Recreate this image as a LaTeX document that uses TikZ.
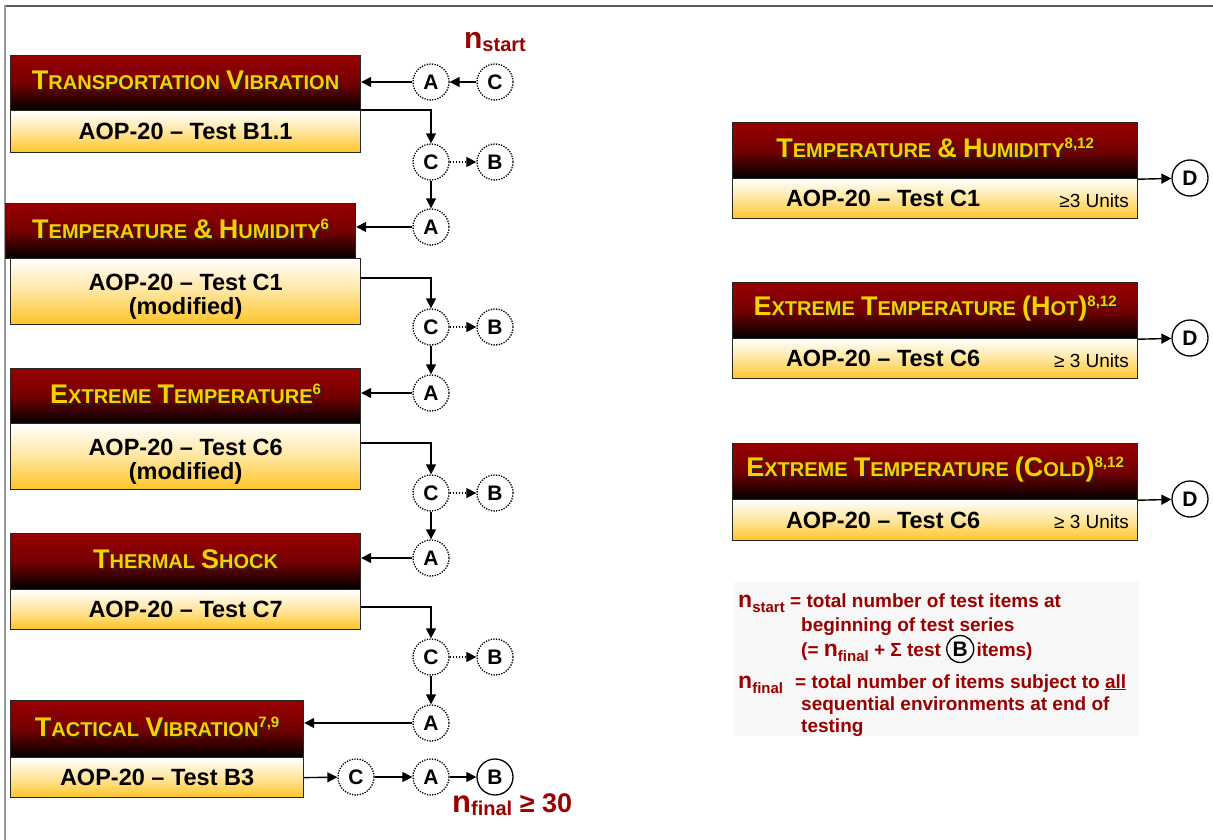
\documentclass[tikz,border=0pt]{standalone}
\usepackage{fontspec}
\setmainfont{Liberation Sans}
\usetikzlibrary{arrows.meta,calc}
\definecolor{hdrred}{HTML}{9A0000}
\definecolor{hdrgold}{HTML}{FFCC00}
\definecolor{bodygold}{HTML}{FFC526}
\definecolor{nred}{HTML}{990000}
\newcommand\SCx[2]{{\fontsize{27}{27}\selectfont #1}{\fontsize{20}{20}\selectfont #2}}
\newcommand\SPx[1]{\raisebox{9pt}{\fontsize{15}{15}\selectfont #1}}
\newcommand\nlab[4]{{\fontsize{#1}{#1}\selectfont n}\raisebox{-0.3em}{\fontsize{#2}{#2}\selectfont #3}#4}
\newcommand\hdrtxt[2]{%
  \node[hdrshadow] at ($(#1.center)+(1.8,-0.7)$) {#2};
  \node[hdrlabel] at ($(#1.center)+(0,-2.5)$) {#2};}
\tikzset{
  hdrbox/.style={draw=black!85, line width=1.2pt, top color=hdrred, bottom color=black, middle color=hdrred!75!black, anchor=north west, inner sep=0pt},
  bodybox/.style={draw=black!85, line width=1.2pt, top color=white, bottom color=bodygold, middle color=bodygold!45!white, anchor=north west, inner sep=0pt},
  bodytxt/.style={font=\bfseries\fontsize{23.5}{24}\selectfont, align=center, inner sep=0pt},
  unitstxt/.style={font=\fontsize{19}{19}\selectfont, anchor=east, inner sep=0pt},
  hdrlabel/.style={text=hdrgold, font=\bfseries\fontsize{22}{22}\selectfont, inner sep=0pt},
  hdrshadow/.style={text=black!85, font=\bfseries\fontsize{22}{22}\selectfont, inner sep=0pt},
  circ/.style={circle, draw=black, line width=1.3pt, dash pattern=on 1.3pt off 1.3pt, fill=white, minimum size=36pt, inner sep=0pt, font=\bfseries\fontsize{21}{21}\selectfont},
  circs/.style={circ, solid},
  arr/.style={draw=black, line width=1.4pt, -{Triangle[length=10pt,width=10pt]}},
  darr/.style={arr, dash pattern=on 1.4pt off 1.6pt},
  legtxt/.style={text=nred, font=\bfseries\fontsize{19}{19}\selectfont, anchor=base west, inner sep=0pt},
}
\begin{document}
\begin{tikzpicture}[x=1pt,y=-1pt]
\useasboundingbox (0,0) rectangle (1213,840);
\fill[white] (0,0) rectangle (1213,840);
% frame
\draw[line width=2.4pt, black!65] (4,6) -- (1213,6);
\draw[line width=1.2pt, black!40] (5,5) -- (5,840);

% left column boxes
\node[hdrbox, minimum width=350pt, minimum height=55pt] (h1) at (10,55) {};
\node[bodybox, minimum width=350pt, minimum height=42pt] (b1) at (10,110) {};
\node[hdrbox, minimum width=350pt, minimum height=55pt] (h2) at (5,203) {};
\node[bodybox, minimum width=350pt, minimum height=66pt] (b2) at (10,258) {};
\node[hdrbox, minimum width=350pt, minimum height=55pt] (h3) at (10,368) {};
\node[bodybox, minimum width=350pt, minimum height=66pt] (b3) at (10,423) {};
\node[hdrbox, minimum width=350pt, minimum height=56pt] (h4) at (10,533) {};
\node[bodybox, minimum width=350pt, minimum height=40pt] (b4) at (10,589) {};
\node[hdrbox, minimum width=293pt, minimum height=57pt] (h5) at (10,700) {};
\node[bodybox, minimum width=293pt, minimum height=40pt] (b5) at (10,757) {};

\hdrtxt{h1}{\SCx{T}{RANSPORTATION} \SCx{V}{IBRATION}}
\hdrtxt{h2}{\SCx{T}{EMPERATURE} \SCx{\&}{} \SCx{H}{UMIDITY}\SPx{6}}
\hdrtxt{h3}{\SCx{E}{XTREME} \SCx{T}{EMPERATURE}\SPx{6}}
\hdrtxt{h4}{\SCx{T}{HERMAL} \SCx{S}{HOCK}}
\hdrtxt{h5}{\SCx{T}{ACTICAL} \SCx{V}{IBRATION}\SPx{7,9}}

\node[bodytxt] (t1) at (b1.center) {AOP-20 – Test B1.1};
\node[bodytxt] (t2) at ($(b2.center)+(0,5)$) {AOP-20 – Test C1\\(modified)};
\node[bodytxt] (t3) at ($(b3.center)+(0,5)$) {AOP-20 – Test C6\\(modified)};
\node[bodytxt] (t4) at (b4.center) {AOP-20 – Test C7};
\node[bodytxt] (t5) at (b5.center) {AOP-20 – Test B3};

% right column boxes
\node[hdrbox, minimum width=405pt, minimum height=56pt] (rh1) at (732,122) {};
\node[bodybox, minimum width=405pt, minimum height=40pt] (rb1) at (732,178) {};
\node[hdrbox, minimum width=405pt, minimum height=56pt] (rh2) at (732,282) {};
\node[bodybox, minimum width=405pt, minimum height=40pt] (rb2) at (732,338) {};
\node[hdrbox, minimum width=405pt, minimum height=56pt] (rh3) at (732,443) {};
\node[bodybox, minimum width=405pt, minimum height=41pt] (rb3) at (732,499) {};

\hdrtxt{rh1}{\SCx{T}{EMPERATURE} \SCx{\&}{} \SCx{H}{UMIDITY}\SPx{8,12}}
\hdrtxt{rh2}{\SCx{E}{XTREME} \SCx{T}{EMPERATURE} \SCx{(H}{OT}\SCx{)}{}\SPx{8,12}}
\hdrtxt{rh3}{\SCx{E}{XTREME} \SCx{T}{EMPERATURE} \SCx{(C}{OLD}\SCx{)}{}\SPx{8,12}}

\node[bodytxt] (rt1) at ($(rb1.center)+(-52,0)$) {AOP-20 – Test C1};
\node[bodytxt] (rt2) at ($(rb2.center)+(-52,0)$) {AOP-20 – Test C6};
\node[bodytxt] (rt3) at ($(rb3.center)+(-52,0)$) {AOP-20 – Test C6};
\node[unitstxt] (u1) at ($(rb1.east)+(-9,2)$) {≥3 Units};
\node[unitstxt] (u2) at ($(rb2.east)+(-9,2)$) {≥ 3 Units};
\node[unitstxt] (u3) at ($(rb3.east)+(-9,2)$) {≥ 3 Units};

% circles
\node[circ] (C0) at (495,82) {C};
\node[circ] (A1) at (431,82) {A};
\node[circ] (C1) at (431,162) {C};
\node[circ] (B1) at (495,162) {B};
\node[circ] (A2) at (431,227) {A};
\node[circ] (C2) at (431,327) {C};
\node[circ] (B2) at (495,327) {B};
\node[circ] (A3) at (431,393) {A};
\node[circ] (C3) at (431,493) {C};
\node[circ] (B3) at (495,493) {B};
\node[circ] (A4) at (431,558) {A};
\node[circ] (C4) at (431,657) {C};
\node[circ] (B4) at (495,657) {B};
\node[circ] (A5) at (431,723) {A};
\node[circ] (C5) at (356,777) {C};
\node[circ] (A6) at (431,777) {A};
\node[circs] (B5) at (495,777) {B};
\node[circs] (D1) at (1190,178) {D};
\node[circs] (D2) at (1190,338) {D};
\node[circs] (D3) at (1190,499) {D};

% labels
\node[text=nred, font=\bfseries, inner sep=0pt] (nstart) at (495,42) {\nlab{30}{20}{start}{}};
\node[text=nred, font=\bfseries, inner sep=0pt, anchor=west] (nfinal) at (452,805) {\nlab{31}{20}{final}{\fontsize{27}{27}\selectfont\ ≥ 30}};

% connectors
\draw[arr] (C0) -- (A1);
\draw[arr] (A1) -- (A1 -| h1.east);
\draw[arr] (b1.north east) -| (C1);
\draw[darr] (C1) -- (B1);
\draw[arr] (C1) -- (A2);
\draw[arr] (A2) -- (A2 -| h2.east);
\draw[arr] ($(b2.north east)+(0,20)$) -| (C2);
\draw[darr] (C2) -- (B2);
\draw[arr] (C2) -- (A3);
\draw[arr] (A3) -- (A3 -| h3.east);
\draw[arr] ($(b3.north east)+(0,20)$) -| (C3);
\draw[darr] (C3) -- (B3);
\draw[arr] (C3) -- (A4);
\draw[arr] (A4) -- (A4 -| h4.east);
\draw[arr] ($(b4.north east)+(0,18)$) -| (C4);
\draw[darr] (C4) -- (B4);
\draw[arr] (C4) -- (A5);
\draw[arr] (A5) -- (A5 -| h5.east);
\draw[arr] (b5.east) -- (C5);
\draw[arr] (C5) -- (A6);
\draw[arr] (A6) -- (B5);
\draw[arr] (rh1.south east) -- (D1);
\draw[arr] (rh2.south east) -- (D2);
\draw[arr] (rh3.south east) -- (D3);

% legend
\node[fill=black!3, minimum width=405pt, minimum height=154pt, anchor=north west, inner sep=0pt] (legbg) at (734,582) {};
\node[legtxt] (l1a) at (738,607) {\nlab{23}{15}{start}{}};
\node[legtxt] (l1b) at (790,607) {= total number of test items at};
\node[legtxt] (l2) at (801,631) {beginning of test series};
\node[legtxt] (l3a) at (801,656) {(= \nlab{23}{15}{final}{} + Σ test};
\node[circle, draw=black, line width=1.3pt, minimum size=27pt, inner sep=0pt, font=\bfseries\fontsize{21}{21}\selectfont, anchor=west] (lB) at ($(l3a.base east)+(5,-7)$) {B};
\node[legtxt] (l3b) at ($(lB.east |- l3a.base)+(2,0)$) {items)};
\node[legtxt] (l4a) at (738,688) {\nlab{23}{15}{final}{}};
\node[legtxt] (l4b) at (795,688) {= total number of items subject to \underline{all}};
\node[legtxt] (l5) at (801,710) {sequential environments at end of};
\node[legtxt] (l6) at (801,732) {testing};
\end{tikzpicture}
\end{document}
